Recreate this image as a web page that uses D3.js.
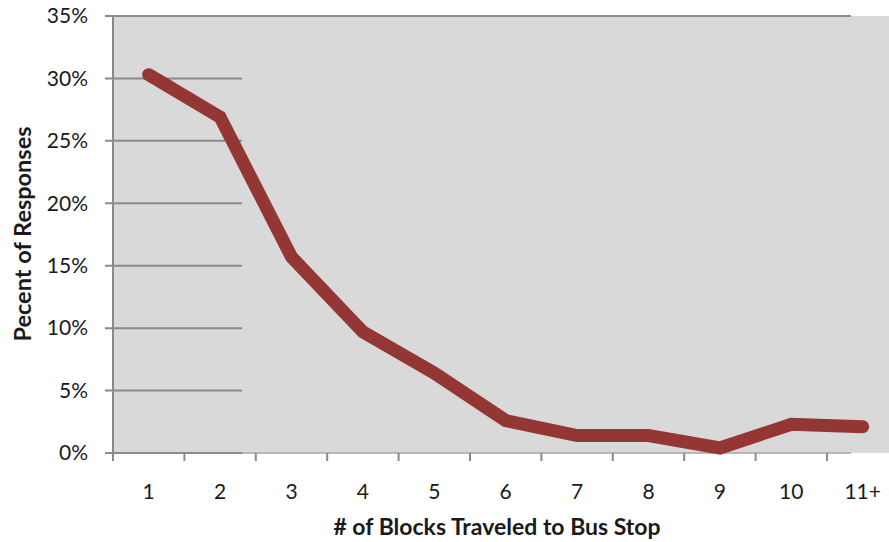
<!DOCTYPE html>
<html><head><meta charset="utf-8">
<script src="https://cdn.jsdelivr.net/npm/d3@7"></script>
<style>body{margin:0;background:#fff}svg{display:block}text{font-family:Lato,"Open Sans",sans-serif;fill:#1a1a1a}</style>
</head><body><svg id="c" width="889" height="542"></svg>
<script>
const categories = ["1","2","3","4","5","6","7","8","9","10","11+"];
const values = [0.303, 0.269, 0.157, 0.097, 0.064, 0.026, 0.014, 0.014, 0.004, 0.023, 0.021];
const yTicks = [0,0.05,0.10,0.15,0.20,0.25,0.30,0.35];

(function(){
const svg = d3.select("#c");
const FONT = "Lato,'Open Sans',sans-serif";
const mLeft = 113, mTop = 16, mBottom = 453, step = 71.4;
const x = d3.scaleBand().domain(categories).range([mLeft, mLeft + step*categories.length]).padding(0);
const y = d3.scaleLinear().domain([0,0.35]).range([mBottom, mTop]);

svg.append("rect").attr("x", mLeft).attr("y", mTop).attr("width", 889-mLeft).attr("height", mBottom-mTop).attr("fill", "#d9d9d9");

const grid = svg.append("g");
yTicks.forEach(t => {
  grid.append("line").attr("x1", 105).attr("x2", t===0.35 ? 851 : 242)
    .attr("y1", y(t)).attr("y2", y(t)).attr("stroke", "#8a8a8a").attr("stroke-width", 2);
});
svg.append("line").attr("x1", 242).attr("x2", 851).attr("y1", mBottom).attr("y2", mBottom).attr("stroke", "#a6a6a6").attr("stroke-width", 1.5);
svg.append("line").attr("x1", mLeft).attr("x2", mLeft).attr("y1", mTop).attr("y2", mBottom+8).attr("stroke", "#8a8a8a").attr("stroke-width", 2);

const yAxis = d3.axisLeft(y).tickValues(yTicks).tickFormat(d3.format(".0%")).tickSize(0).tickPadding(0);
const ya = svg.append("g").attr("transform", `translate(${mLeft-25},0)`).call(yAxis);
ya.select(".domain").remove();
ya.selectAll("text").attr("font-size", 21).attr("font-family", FONT).attr("fill", "#1a1a1a").attr("dy", "0.32em");

const xAxis = d3.axisBottom(x).tickSize(0).tickPadding(0);
const xa = svg.append("g").attr("transform", `translate(0,${mBottom})`).call(xAxis);
xa.select(".domain").remove();
xa.selectAll("text").attr("y", 39).attr("dy", "0.32em").attr("font-size", 21).attr("font-family", FONT).attr("fill", "#1a1a1a");
categories.slice(1).forEach(c => {
  svg.append("line").attr("x1", x(c)).attr("x2", x(c)).attr("y1", mBottom).attr("y2", mBottom+8).attr("stroke", "#8a8a8a").attr("stroke-width", 2);
});

const line = d3.line().x((d,i) => x(categories[i]) + x.bandwidth()/2).y(d => y(d));
svg.append("path").datum(values).attr("d", line).attr("fill", "none")
  .attr("stroke", "#943634").attr("stroke-width", 13).attr("stroke-linecap", "round").attr("stroke-linejoin", "miter");

svg.append("text").attr("x", 497).attr("y", 535).attr("text-anchor", "middle").attr("font-size", 23).attr("font-weight", "bold").text("# of Blocks Traveled to Bus Stop");
svg.append("text").attr("transform", "translate(31,234) rotate(-90)").attr("text-anchor", "middle").attr("font-size", 23.5).attr("font-weight", "bold").text("Pecent of Responses");
})();
</script></body></html>
